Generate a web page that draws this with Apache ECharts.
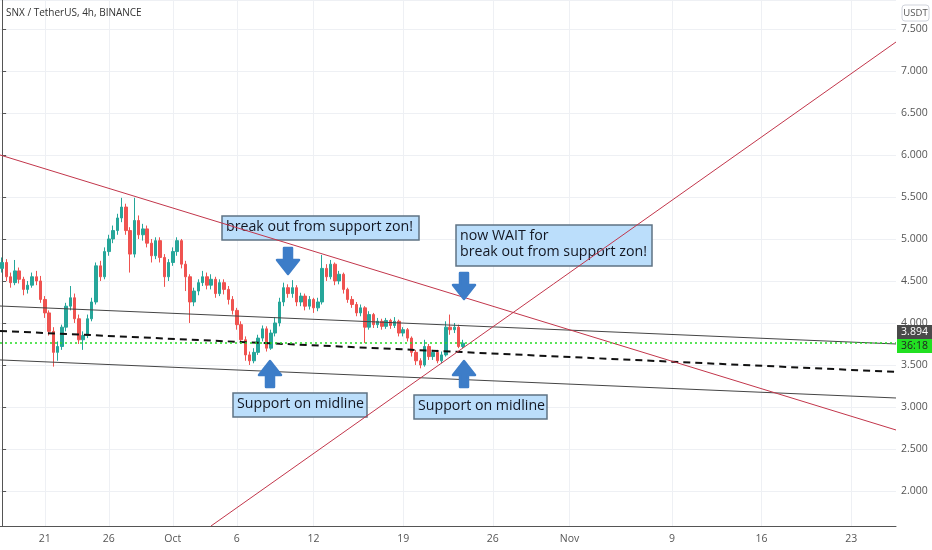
<!DOCTYPE html>
<html>
<head>
<meta charset="utf-8">
<script src="https://cdn.jsdelivr.net/npm/echarts@6/dist/echarts.min.js"></script>
<style>
  html, body { margin: 0; padding: 0; background: #fff; }
  #chart { width: 932px; height: 550px; }
</style>
</head>
<body>
<div id="chart"></div>
<script>
// 8h slots, first slot starts 2020-09-17 16:00
var slotCount = 210;
var startTime = Date.UTC(2020, 8, 17, 16);
var slotHours = 8;

var tickDates = ['2020-09-21', '2020-09-26', '2020-10-01', '2020-10-06', '2020-10-12', '2020-10-19',
  '2020-10-26', '2020-11-01', '2020-11-09', '2020-11-16', '2020-11-23'];
var tickLabels = ['21', '26', 'Oct', '6', '12', '19', '26', 'Nov', '9', '16', '23'];

var opens = [4.65, 4.72, 4.55, 4.48, 4.62, 4.52, 4.40, 4.45, 4.55, 4.50,
  4.28, 4.12, 3.90, 3.65, 3.72, 3.95, 4.20, 4.30, 4.05, 3.80,
  3.85, 4.05, 4.25, 4.68, 4.55, 4.85, 5.00, 5.10, 5.25, 5.38,
  5.10, 4.82, 5.22, 5.05, 5.12, 4.95, 4.80, 4.98, 4.78, 4.55,
  4.72, 4.85, 4.98, 4.70, 4.55, 4.25, 4.38, 4.48, 4.55, 4.45,
  4.52, 4.35, 4.48, 4.40, 4.28, 4.15, 3.98, 3.80, 3.62, 3.55,
  3.65, 3.82, 3.93, 3.70, 3.88, 4.00, 4.25, 4.42, 4.35, 4.42,
  4.25, 4.32, 4.20, 4.28, 4.18, 4.25, 4.65, 4.55, 4.70, 4.50,
  4.58, 4.40, 4.28, 4.22, 4.12, 4.18, 3.95, 4.10, 3.98, 4.02,
  3.96, 4.03, 3.97, 4.02, 3.88, 3.92, 3.82, 3.65, 3.55, 3.50,
  3.72, 3.60, 3.65, 3.55, 3.62, 3.95, 3.92, 3.95, 3.72];
var closes = [4.72, 4.55, 4.48, 4.62, 4.52, 4.40, 4.45, 4.55, 4.50, 4.28,
  4.12, 3.90, 3.65, 3.72, 3.95, 4.20, 4.30, 4.05, 3.80, 3.85,
  4.05, 4.25, 4.68, 4.55, 4.85, 5.00, 5.10, 5.25, 5.38, 5.10,
  4.82, 5.22, 5.05, 5.12, 4.95, 4.80, 4.98, 4.78, 4.55, 4.72,
  4.85, 4.98, 4.70, 4.55, 4.25, 4.38, 4.48, 4.55, 4.45, 4.52,
  4.35, 4.48, 4.40, 4.28, 4.15, 3.98, 3.80, 3.62, 3.55, 3.65,
  3.82, 3.93, 3.70, 3.88, 4.00, 4.25, 4.42, 4.35, 4.42, 4.25,
  4.32, 4.20, 4.28, 4.18, 4.25, 4.65, 4.55, 4.70, 4.50, 4.58,
  4.40, 4.28, 4.22, 4.12, 4.18, 3.95, 4.10, 3.98, 4.02, 3.96,
  4.03, 3.97, 4.02, 3.88, 3.92, 3.82, 3.65, 3.55, 3.50, 3.72,
  3.60, 3.65, 3.55, 3.62, 3.95, 3.92, 3.95, 3.72, 3.76];
var lows = [4.60, 4.50, 4.42, 4.45, 4.47, 4.33, 4.35, 4.42, 4.45, 4.24,
  4.06, 3.85, 3.48, 3.55, 3.68, 3.90, 4.15, 4.00, 3.75, 3.68,
  3.82, 4.02, 4.22, 4.50, 4.52, 4.80, 4.95, 5.05, 5.20, 5.05,
  4.60, 4.78, 5.00, 4.98, 4.90, 4.72, 4.76, 4.72, 4.43, 4.50,
  4.68, 4.80, 4.65, 4.38, 4.00, 4.20, 4.33, 4.44, 4.40, 4.40,
  4.30, 4.32, 4.34, 4.22, 4.10, 3.92, 3.75, 3.55, 3.50, 3.52,
  3.62, 3.78, 3.66, 3.68, 3.84, 3.96, 4.20, 4.30, 4.30, 4.20,
  4.20, 4.15, 4.16, 4.12, 4.14, 4.22, 4.50, 4.52, 4.45, 4.46,
  4.35, 4.24, 4.18, 4.08, 4.08, 3.76, 3.92, 3.94, 3.94, 3.92,
  3.93, 3.93, 3.94, 3.84, 3.84, 3.78, 3.60, 3.50, 3.46, 3.48,
  3.56, 3.56, 3.52, 3.52, 3.60, 3.86, 3.88, 3.70, 3.70];
var highs = [4.78, 4.76, 4.60, 4.75, 4.66, 4.55, 4.50, 4.60, 4.62, 4.56,
  4.32, 4.15, 3.95, 3.78, 3.98, 4.24, 4.44, 4.35, 4.10, 3.90,
  4.10, 4.30, 4.72, 4.74, 4.90, 5.05, 5.16, 5.30, 5.49, 5.42,
  5.14, 5.49, 5.28, 5.18, 5.16, 5.00, 5.02, 5.02, 4.82, 4.76,
  4.90, 5.02, 5.00, 4.74, 4.58, 4.42, 4.52, 4.62, 4.60, 4.58,
  4.55, 4.52, 4.52, 4.44, 4.32, 4.18, 4.02, 3.84, 3.66, 3.70,
  3.86, 3.97, 3.96, 3.92, 4.07, 4.30, 4.48, 4.46, 4.51, 4.45,
  4.36, 4.35, 4.32, 4.30, 4.30, 4.81, 4.70, 4.75, 4.72, 4.62,
  4.60, 4.42, 4.32, 4.25, 4.22, 4.20, 4.14, 4.12, 4.06, 4.05,
  4.06, 4.05, 4.07, 4.04, 3.95, 3.94, 3.84, 3.68, 3.58, 3.80,
  3.75, 3.68, 3.68, 3.66, 4.02, 4.10, 4.00, 3.98, 3.80];

// drawn lines: [[slot, price], [slot, price]]
var fallingLine = [[-0.5, 6.00], [209.5, 2.726]];
var risingLine = [[48.95, 1.583], [209.5, 7.345]];
var channelTop = [[-0.5, 4.202], [209.5, 3.750]];
var channelMid = [[-0.5, 3.905], [209.5, 3.417]];
var channelBottom = [[-0.5, 3.560], [209.5, 3.107]];
var priceLabel = '3.894';
var countdown = '36:18';

var categories = [];
for (var i = 0; i < slotCount; i++) {
  categories.push(echarts.time.format(startTime + i * slotHours * 3600000, '{yyyy}-{MM}-{dd} {HH}:00', true));
}
var tickIndex = {};
tickDates.forEach(function(d, k) {
  var t = Date.parse(d + 'T00:00:00Z');
  tickIndex[Math.round((t - startTime) / (slotHours * 3600000))] = tickLabels[k];
});
var isTick = function(idx) { return tickIndex[idx] !== undefined; };

var candles = [];
for (var j = 0; j < closes.length; j++) {
  candles.push([opens[j], closes[j], lows[j], highs[j]]);
}
var lastClose = closes[closes.length - 1];

var gridColor = '#eef0f4';
var axisColor = '#555';

var chart = echarts.init(document.getElementById('chart'));

function arrow(cx, y0, up) {
  var s = up ? -1 : 1;
  var pts = [[cx - 4, y0], [cx + 4, y0], [cx + 4, y0 + s * 12], [cx + 11, y0 + s * 12],
    [cx, y0 + s * 26], [cx - 11, y0 + s * 12], [cx - 4, y0 + s * 12]];
  return {
    type: 'polygon', z: 100,
    shape: { points: pts },
    style: { fill: '#3d7dc8', stroke: '#3d7dc8', lineWidth: 2.5, lineJoin: 'round' }
  };
}
function note(x, y, w, h, text) {
  return {
    type: 'group', z: 100,
    children: [
      { type: 'rect', shape: { x: x, y: y, width: w, height: h },
        style: { fill: '#bbdefb', stroke: '#5f7384', lineWidth: 1.5 } },
      { type: 'text', x: x + 4, y: y + 3,
        style: { text: text, fill: '#131722', font: '14.2px "Open Sans"', lineHeight: 16,
          verticalAlign: 'top' } }
    ]
  };
}

var option = {
  animation: false,
  backgroundColor: '#fff',
  grid: { left: 0, right: 36, top: 0, bottom: 24 },
  xAxis: [
    {
      type: 'category',
      data: categories,
      boundaryGap: true,
      axisLine: { lineStyle: { color: axisColor } },
      axisTick: { interval: isTick, alignWithLabel: true, length: 3, lineStyle: { color: axisColor } },
      axisLabel: {
        interval: isTick, margin: 8, color: '#555', fontSize: 10.5, fontFamily: 'Open Sans',
        formatter: function(v, idx) { return tickIndex[idx] || ''; }
      },
      splitLine: { show: true, interval: isTick, alignWithLabel: true, lineStyle: { color: gridColor } }
    },
    { type: 'value', min: -0.5, max: slotCount - 0.5, show: false }
  ],
  yAxis: {
    type: 'value',
    position: 'right',
    min: 1.583,
    max: 7.845,
    splitNumber: 12,
    minInterval: 0.5,
    maxInterval: 0.5,
    axisLine: { show: true, lineStyle: { color: axisColor } },
    axisTick: { show: true, length: 4, lineStyle: { color: axisColor } },
    axisLabel: {
      margin: 5, color: '#555', fontSize: 10.5, fontFamily: 'Open Sans',
      showMinLabel: false, showMaxLabel: false,
      formatter: function(v) { return v.toFixed(3); }
    },
    splitLine: { lineStyle: { color: gridColor } }
  },
  series: [
    {
      type: 'candlestick',
      data: candles,
      barWidth: 3,
      itemStyle: { color: '#26a69a', color0: '#ef5350', borderColor: '#26a69a', borderColor0: '#ef5350', borderWidth: 1 },
      markLine: {
        silent: true, symbol: 'none', label: { show: false },
        lineStyle: { color: '#22dd22', type: [2, 3], width: 1.5 },
        data: [{ yAxis: lastClose }]
      }
    },
    { type: 'line', xAxisIndex: 1, data: channelTop, symbol: 'none', lineStyle: { color: '#454545', width: 1 } },
    { type: 'line', xAxisIndex: 1, data: channelMid, symbol: 'none', lineStyle: { color: '#111', width: 2, type: [7, 5] } },
    { type: 'line', xAxisIndex: 1, data: channelBottom, symbol: 'none', lineStyle: { color: '#454545', width: 1 } },
    { type: 'line', xAxisIndex: 1, data: fallingLine, symbol: 'none', lineStyle: { color: '#c2364b', width: 1 } },
    { type: 'line', xAxisIndex: 1, data: risingLine, symbol: 'none', lineStyle: { color: '#c2364b', width: 1 } }
  ]
};
chart.setOption(option);

var py = chart.convertToPixel({ yAxisIndex: 0 }, parseFloat(priceLabel));
chart.setOption({
  graphic: [
    { type: 'text', left: 6, top: 8, z: 100,
      style: { text: 'SNX / TetherUS, 4h, BINANCE', fill: '#333', font: '10px "Open Sans"' } },
    { type: 'rect', z: 100, shape: { x: 902, y: 5, width: 27, height: 16, r: 3 },
      style: { fill: '#fff', stroke: '#d1d4dc', lineWidth: 1 } },
    { type: 'text', z: 101, x: 915.5, y: 13,
      style: { text: 'USDT', fill: '#555', font: '9.5px "Open Sans"', align: 'center', verticalAlign: 'middle' } },
    { type: 'rect', z: 100, shape: { x: 897, y: py - 7, width: 35, height: 14 }, style: { fill: '#4a4a4a' } },
    { type: 'text', z: 101, x: 914.5, y: py,
      style: { text: priceLabel, fill: '#fff', font: '10.5px "Open Sans"', align: 'center', verticalAlign: 'middle' } },
    { type: 'rect', z: 100, shape: { x: 897, y: py + 7, width: 35, height: 14 }, style: { fill: '#22e022' } },
    { type: 'text', z: 101, x: 914.5, y: py + 14,
      style: { text: countdown, fill: '#222', font: '10.5px "Open Sans"', align: 'center', verticalAlign: 'middle' } },
    note(222, 216, 197, 24, 'break out from support zon!'),
    note(456, 225, 196, 41, 'now WAIT for\nbreak out from support zon!'),
    note(233, 393, 134, 24, 'Support on midline'),
    note(414, 395, 133, 24, 'Support on midline'),
    arrow(288, 248, false),
    arrow(464, 273, false),
    arrow(270, 387, true),
    arrow(464, 387, true)
  ]
});
</script>
</body>
</html>
